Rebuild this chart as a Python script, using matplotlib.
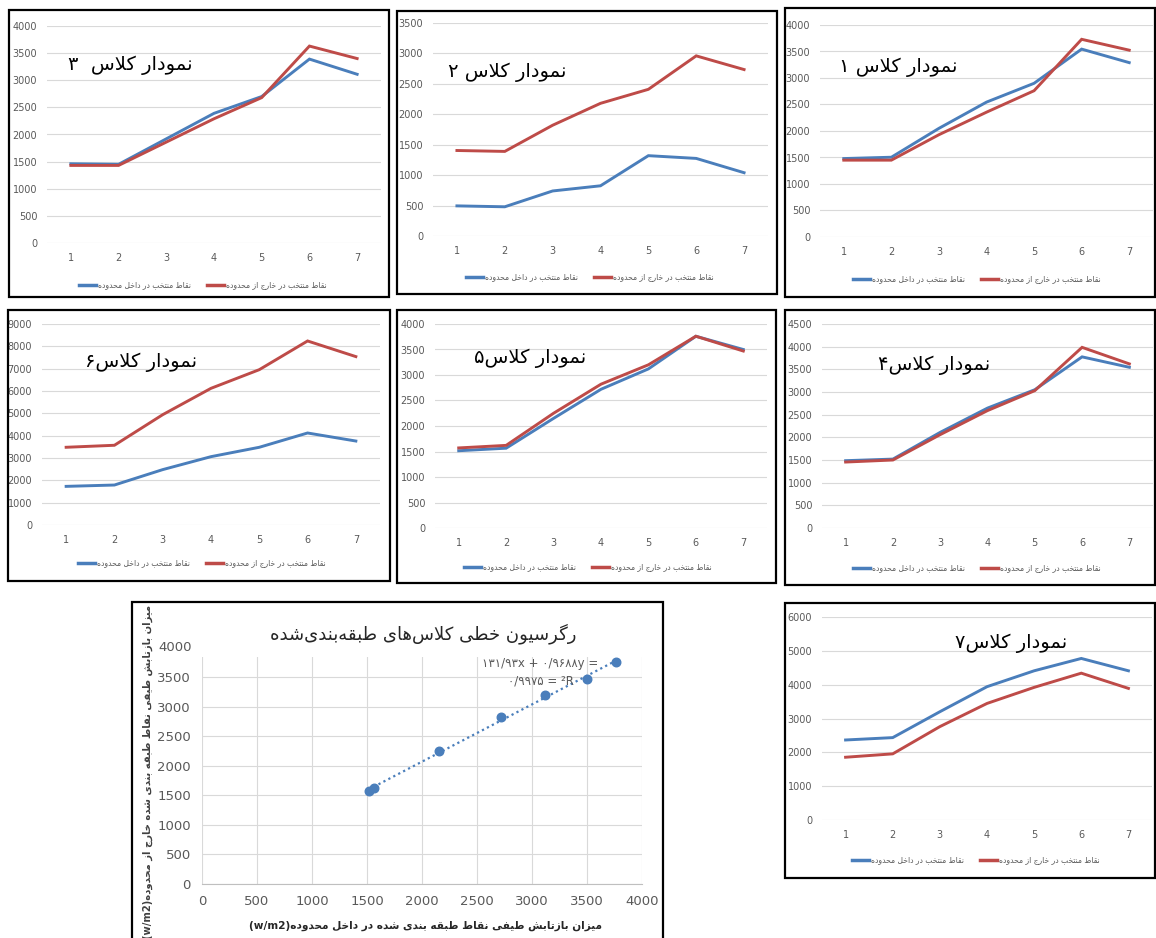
import matplotlib
matplotlib.use("Agg")
import matplotlib.pyplot as plt
import matplotlib.patches as patches
from matplotlib.lines import Line2D
import numpy as np

# ---- data -------------------------------------------------------------
classes = [1, 2, 3, 4, 5, 6, 7]

class1_in = [1480, 1505, 2050, 2545, 2900, 3545, 3290]
class1_out = [1450, 1450, 1930, 2355, 2760, 3730, 3525]

class2_in = [495, 480, 740, 825, 1320, 1275, 1040]
class2_out = [1405, 1390, 1820, 2180, 2410, 2960, 2735]

class3_in = [1460, 1450, 1920, 2390, 2700, 3390, 3110]
class3_out = [1430, 1430, 1860, 2290, 2680, 3630, 3400]

class4_in = [1485, 1520, 2110, 2645, 3050, 3775, 3545]
class4_out = [1455, 1500, 2060, 2590, 3030, 3985, 3620]

class5_in = [1515, 1565, 2150, 2720, 3120, 3760, 3500]
class5_out = [1570, 1620, 2250, 2820, 3200, 3760, 3470]

class6_in = [1730, 1790, 2480, 3060, 3480, 4120, 3760]
class6_out = [3480, 3570, 4940, 6120, 6955, 8240, 7540]

class7_in = [2365, 2435, 3200, 3940, 4410, 4775, 4410]
class7_out = [1855, 1955, 2760, 3445, 3920, 4340, 3890]

slope, intercept, r2 = 0.9688, 131.93, 0.9975

# ---- persian shaping (matplotlib has no arabic shaper) -----------------
FORMS = {
    'ا': ('\uFE8D', '\uFE8E', None, None),
    'ب': ('\uFE8F', '\uFE90', '\uFE91', '\uFE92'),
    'ت': ('\uFE95', '\uFE96', '\uFE97', '\uFE98'),
    'ج': ('\uFE9D', '\uFE9E', '\uFE9F', '\uFEA0'),
    'ح': ('\uFEA1', '\uFEA2', '\uFEA3', '\uFEA4'),
    'خ': ('\uFEA5', '\uFEA6', '\uFEA7', '\uFEA8'),
    'د': ('\uFEA9', '\uFEAA', None, None),
    'ر': ('\uFEAD', '\uFEAE', None, None),
    'ز': ('\uFEAF', '\uFEB0', None, None),
    'س': ('\uFEB1', '\uFEB2', '\uFEB3', '\uFEB4'),
    'ش': ('\uFEB5', '\uFEB6', '\uFEB7', '\uFEB8'),
    'ط': ('\uFEC1', '\uFEC2', '\uFEC3', '\uFEC4'),
    'ف': ('\uFED1', '\uFED2', '\uFED3', '\uFED4'),
    'ق': ('\uFED5', '\uFED6', '\uFED7', '\uFED8'),
    'ل': ('\uFEDD', '\uFEDE', '\uFEDF', '\uFEE0'),
    'م': ('\uFEE1', '\uFEE2', '\uFEE3', '\uFEE4'),
    'ن': ('\uFEE5', '\uFEE6', '\uFEE7', '\uFEE8'),
    'ه': ('\uFEE9', '\uFEEA', '\uFEEB', '\uFEEC'),
    'و': ('\uFEED', '\uFEEE', None, None),
    'ی': ('\uFBFC', '\uFBFD', '\uFBFE', '\uFBFF'),
    'ک': ('\uFB8E', '\uFB8F', '\uFB90', '\uFB91'),
    'گ': ('\uFB92', '\uFB93', '\uFB94', '\uFB95'),
}


def joins_next(ch):
    return ch in FORMS and FORMS[ch][2] is not None


def fa(text):
    out = []
    i = 0
    n = len(text)
    while i < n:
        c = text[i]
        if c not in FORMS:
            if c != '\u200c':
                out.append(c)
            i += 1
            continue
        prev_j = i > 0 and joins_next(text[i - 1])
        nxt = text[i + 1] if i + 1 < n else ''
        if c == 'ل' and nxt == 'ا':
            out.append('\uFEFC' if prev_j else '\uFEFB')
            i += 2
            continue
        next_j = joins_next(c) and nxt in FORMS
        iso, fin, ini, med = FORMS[c]
        if prev_j and next_j:
            out.append(med)
        elif prev_j:
            out.append(fin)
        elif next_j:
            out.append(ini)
        else:
            out.append(iso)
        i += 1
    return ''.join(out)[::-1]


AR_FONT = ['DejaVu Sans']
NUM_FONT = ['Liberation Sans Narrow', 'DejaVu Sans']

legend_in = fa('نقاط منتخب در داخل محدوده')
legend_out = fa('نقاط منتخب در خارج از محدوده')

BLUE = '#4A7EBB'
RED = '#BE4B48'
GRID = '#D9D9D9'
TICK = '#595959'

W, H = 1156, 938
fig = plt.figure(figsize=(W / 100, H / 100), dpi=100)


def fbox(l, t, r, b):
    return [l / W, 1 - b / H, (r - l) / W, (b - t) / H]


def frame(l, t, r, b):
    fig.add_artist(patches.Rectangle((l / W, 1 - b / H), (r - l) / W, (b - t) / H,
                                     transform=fig.transFigure, fill=False,
                                     ec='black', lw=1.6))


def line_panel(frame_px, axes_px, ymax, ystep, inside, outside, title, title_xy, leg_xy):
    frame(*frame_px)
    ax = fig.add_axes(fbox(*axes_px))
    ax.plot(classes, inside, color=BLUE, lw=2.1, solid_joinstyle='miter')
    ax.plot(classes, outside, color=RED, lw=2.1, solid_joinstyle='miter')
    ax.set_xlim(0.5, 7.5)
    ax.set_ylim(0, ymax)
    ax.set_yticks(np.arange(0, ymax + 1, ystep))
    ax.set_xticks(classes)
    ax.yaxis.grid(True, color=GRID, lw=0.8)
    ax.set_axisbelow(True)
    for s in ax.spines.values():
        s.set_visible(False)
    ax.tick_params(length=0, labelsize=7, colors=TICK, pad=7)
    for lab in ax.get_xticklabels() + ax.get_yticklabels():
        lab.set_family(NUM_FONT)
    fig.text(title_xy[0] / W, 1 - title_xy[1] / H, fa(title), ha='center', va='center',
             fontsize=14, family=AR_FONT, color='black')
    handles = [Line2D([], [], color=BLUE, lw=2.5), Line2D([], [], color=RED, lw=2.5)]
    fig.legend(handles, [legend_in, legend_out], loc='center',
               bbox_to_anchor=(leg_xy[0] / W, 1 - leg_xy[1] / H), ncol=2, frameon=False,
               prop={'family': AR_FONT, 'size': 5.5}, labelcolor=TICK,
               handlelength=2.2, handletextpad=0.3, columnspacing=2.0)
    return ax


line_panel((9, 10, 389, 297), (47, 26, 381, 243), 4000, 500, class3_in, class3_out,
           'نمودار کلاس  ۳', (130, 65), (203, 285))
line_panel((397, 11, 777, 294), (433, 23, 768, 236), 3500, 500, class2_in, class2_out,
           'نمودار کلاس ۲', (507, 72), (590, 277))
line_panel((785, 8, 1155, 297), (820, 25, 1153, 237), 4000, 500, class1_in, class1_out,
           'نمودار کلاس ۱', (898, 67), (977, 279))
line_panel((8, 310, 390, 581), (42, 324, 380, 525), 9000, 1000, class6_in, class6_out,
           'نمودار کلاس۶', (141, 362), (202, 563))
line_panel((397, 310, 776, 583), (435, 324, 767, 528), 4000, 500, class5_in, class5_out,
           'نمودار کلاس۵', (530, 358), (588, 567))
line_panel((785, 310, 1155, 585), (822, 324, 1153, 528), 4500, 500, class4_in, class4_out,
           'نمودار کلاس۴', (934, 365), (977, 568))
line_panel((785, 603, 1155, 878), (822, 617, 1152, 820), 6000, 1000, class7_in, class7_out,
           'نمودار کلاس۷', (1011, 643), (976, 860))

# ---- regression of class 5: inside vs outside -------------------------
frame(132, 602, 663, 960)
ax = fig.add_axes(fbox(202, 657, 642, 884))
ax.scatter(class5_in, class5_out, s=38, color=BLUE, zorder=3)
xs = np.array([min(class5_in), max(class5_in)])
ax.plot(xs, slope * xs + intercept, ls=(0, (1, 1.5)), color=BLUE, lw=1.6, zorder=2)
ax.set_xlim(0, 4000)
ax.set_ylim(0, 3840)
ax.set_xticks(np.arange(0, 4001, 500))
ax.set_yticks(np.arange(0, 3501, 500))
ax.grid(True, color=GRID, lw=0.8)
ax.set_axisbelow(True)
for name, s in ax.spines.items():
    s.set_visible(name == 'bottom')
ax.spines['bottom'].set_color('#BFBFBF')
ax.tick_params(length=0, labelsize=9.5, colors=TICK, pad=8)
ax.text(-0.022, 4000, '4000', transform=ax.get_yaxis_transform(), ha='right', va='center',
        fontsize=9.5, color=TICK, clip_on=False)

fig.text(423 / W, 1 - 634 / H, fa('رگرسیون خطی کلاس\u200cهای طبقه\u200cبندی\u200cشده'),
         ha='center', va='center', fontsize=13, family=AR_FONT, color='#262626')
fig.text(540 / W, 1 - 664 / H, '۱۳۱/۹۳x + ۰/۹۶۸۸y =', ha='center', va='center',
         fontsize=8.5, family=AR_FONT, color=TICK)
fig.text(541 / W, 1 - 681 / H, '۰/۹۹۷۵ = ²R', ha='center', va='center',
         fontsize=8.5, family=AR_FONT, color=TICK)
fig.text(425 / W, 1 - 926 / H,
         '(w/m2)' + fa('میزان بازتابش طیفی نقاط طبقه بندی شده در داخل محدوده'),
         ha='center', va='center', fontsize=7.6, family=AR_FONT, fontweight='bold', color='#262626')
fig.text(148 / W, 1 - 772 / H,
         '(w/m2)' + fa('میزان بازتابش طیفی نقاط طبقه بندی شده خارج از محدوده'),
         ha='center', va='center', rotation=90, fontsize=7.2, family=AR_FONT,
         fontweight='bold', color='#404040')

fig.savefig('out.png', dpi=100, facecolor='white')
